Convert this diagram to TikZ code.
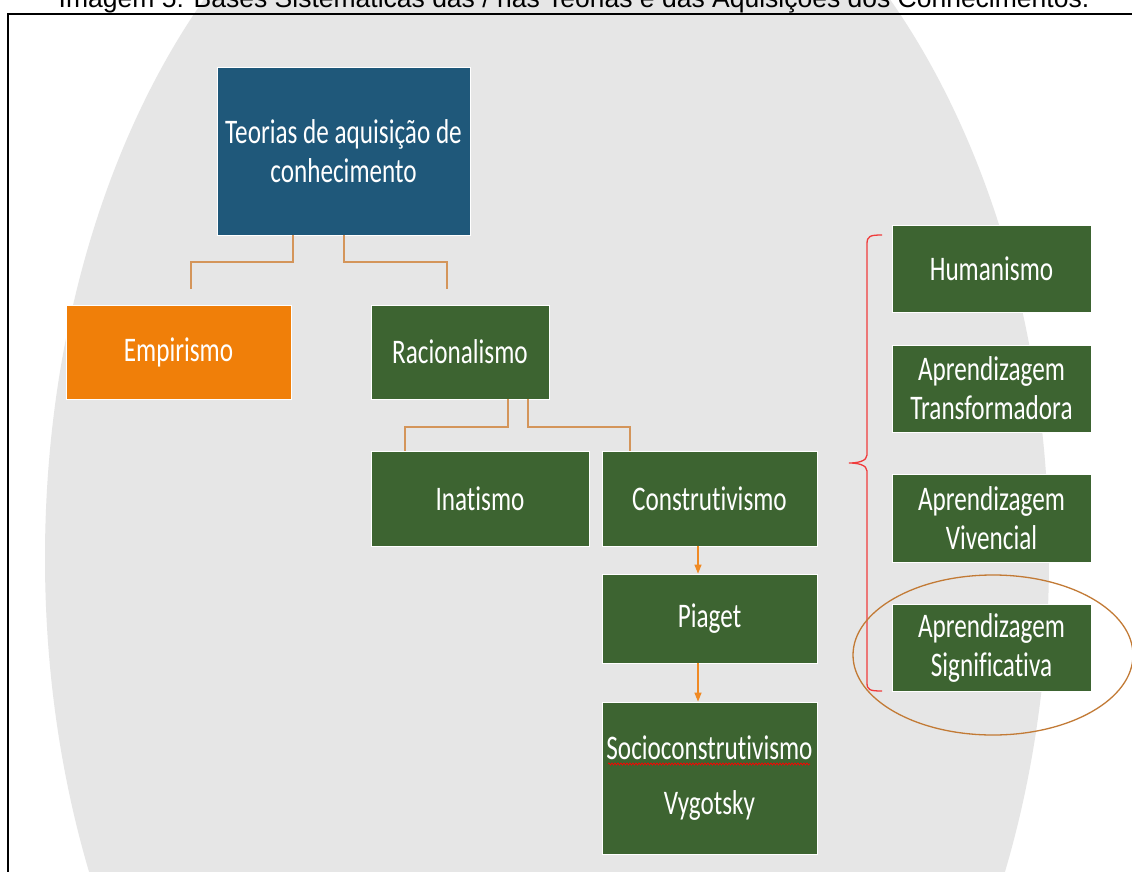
\documentclass[tikz,border=0pt]{standalone}
\usepackage{fontspec}
\usetikzlibrary{arrows.meta,decorations.pathmorphing,calc}
\newfontfamily\boxfont[FakeStretch=0.73,Ligatures={NoCommon}]{Carlito}
\newfontfamily\capfont{Liberation Sans}
\definecolor{bgray}{HTML}{E6E6E6}
\definecolor{cblue}{HTML}{1F587A}
\definecolor{cgreen}{HTML}{3D6431}
\definecolor{corange}{HTML}{F07F09}
\definecolor{connc}{HTML}{D4955A}
\definecolor{arrc}{HTML}{F08A24}
\definecolor{bracec}{HTML}{F03C3C}
\definecolor{ellc}{HTML}{C27A35}
\tikzset{
  gbox/.style={draw=white, line width=0.8pt, text=white, align=center, inner sep=0pt,
    font=\boxfont\fontsize{34.5}{39}\selectfont},
  conn/.style={draw=connc, line width=2pt},
  arr/.style={draw=arrc, line width=1.3pt, -{Triangle[width=7pt,length=9pt]}},
}
\begin{document}
\begin{tikzpicture}[x=1pt,y=-1pt]
\useasboundingbox (0,0) rectangle (1132,872);
\clip (0,0) rectangle (1132,872);
\fill[white] (0,0) rectangle (1132,872);
\fill[bgray] (547,558) ellipse [x radius=502pt, y radius=765pt];
% frame
\draw[line width=2pt] (8,880) -- (8,14) -- (1140,14);
% caption
\node[font=\capfont\fontsize{26.5}{30}\selectfont, anchor=base, inner sep=0pt] (cap) at (574,7.5)
  {Imagem 5: Bases Sistemáticas das / nas Teorias e das Aquisições dos Conhecimentos.};
% boxes
\node[gbox, fill=cblue, minimum width=253pt, minimum height=168pt] (teorias) at (343.5,151) {Teorias de aquisição de\\conhecimento};
\node[gbox, fill=corange, minimum width=225pt, minimum height=94pt] (empirismo) at (178.5,352) {Empirismo};
\node[gbox, fill=cgreen, minimum width=178pt, minimum height=94pt] (racionalismo) at (460,352) {Racionalismo};
\node[gbox, fill=cgreen, minimum width=218pt, minimum height=95pt] (inatismo) at (480,498.5) {Inatismo};
\node[gbox, fill=cgreen, minimum width=215pt, minimum height=95pt] (construtivismo) at (709.5,498.5) {Construtivismo};
\node[gbox, fill=cgreen, minimum width=215pt, minimum height=89pt] (piaget) at (709.5,618.5) {Piaget};
\node[gbox, fill=cgreen, minimum width=215pt, minimum height=152pt] (socio) at (709.5,778) {Socioconstrutivismo\\[16pt]Vygotsky};
\node[gbox, fill=cgreen, minimum width=199pt, minimum height=87pt] (humanismo) at (991.5,268.5) {Humanismo};
\node[gbox, fill=cgreen, minimum width=199pt, minimum height=87pt] (transf) at (991.5,388.5) {Aprendizagem\\Transformadora};
\node[gbox, fill=cgreen, minimum width=199pt, minimum height=88pt] (vivencial) at (991.5,518) {Aprendizagem\\Vivencial};
\node[gbox, fill=cgreen, minimum width=199pt, minimum height=87pt] (signif) at (991.5,647.5) {Aprendizagem\\Significativa};
% spell-check squiggle
\draw[red, line width=0.7pt, decorate, decoration={snake, amplitude=1pt, segment length=3pt}]
  ($(socio.center)+(-101.5,-14)$) -- ($(socio.center)+(100.5,-14)$);
% connectors
\draw[conn] ([xshift=-50.5pt]teorias.south) -- ++(0,27) -| ([xshift=12.5pt,yshift=16pt]empirismo.north);
\draw[conn] ([xshift=0.5pt]teorias.south) -- ++(0,27) -| ([xshift=-13pt,yshift=16pt]racionalismo.north);
\draw[conn] ([xshift=48pt]racionalismo.south) -- ++(0,28) -| ([xshift=-75pt]inatismo.north);
\draw[conn] ([xshift=68pt]racionalismo.south) -- ++(0,28) -| ([xshift=-79.5pt]construtivismo.north);
\draw[arr] ([xshift=-11.5pt]construtivismo.south) -- ([xshift=-11.5pt]piaget.north);
\draw[arr] ([xshift=-11.5pt]piaget.south) -- ([xshift=-11.5pt]socio.north);
% brace
\draw[bracec, line width=1.3pt] (882,235) .. controls (870,235) and (867,236) .. (867,244) -- (867,455)
  .. controls (867,461) and (858,463) .. (849,463) .. controls (858,463) and (867,465) .. (867,471)
  -- (867,683) .. controls (867,690) and (870,691) .. (882,691);
% highlight ellipse
\draw[ellc, line width=1.3pt] (993,655) ellipse [x radius=140pt, y radius=80pt];
\end{tikzpicture}
\end{document}
